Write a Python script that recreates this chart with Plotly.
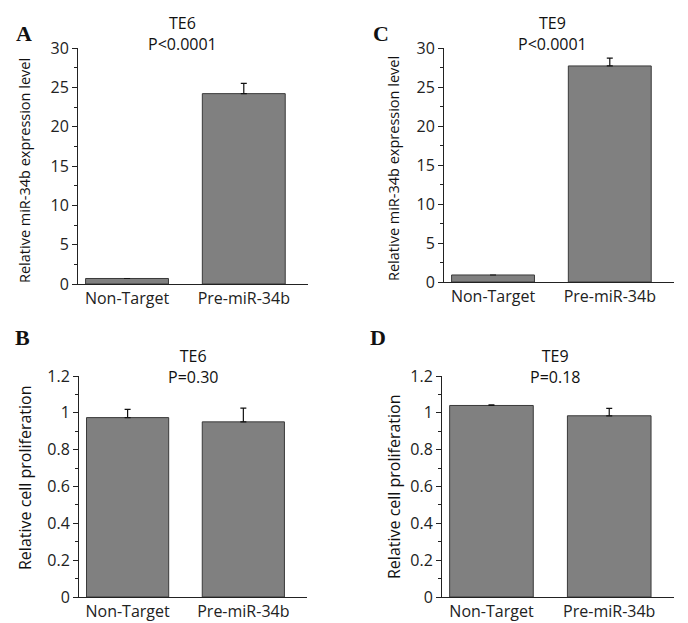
import plotly.graph_objects as go

categories = ["Non-Target", "Pre-miR-34b"]

# Panel A: TE6 miR-34b expression
a_values = [0.7, 24.2]
a_errors = [0.0, 1.3]
# Panel C: TE9 miR-34b expression
c_values = [0.9, 27.7]
c_errors = [0.0, 1.0]
# Panel B: TE6 proliferation
b_values = [0.974, 0.951]
b_errors = [0.045, 0.075]
# Panel D: TE9 proliferation
d_values = [1.040, 0.984]
d_errors = [0.004, 0.040]

expr_ticks = [0, 5, 10, 15, 20, 25, 30]
prolif_ticks = [0, 0.2, 0.4, 0.6, 0.8, 1, 1.2]

W, H = 688, 623
FONT = "Open Sans"
BAR = "#808080"
EDGE = "#3a3a3a"

def px(x):
    return x / W

def py(y):
    return 1 - y / H

panels = [
    ("A", a_values, a_errors, (78, 308), (284, 48), [0, 30], expr_ticks, 2.5),
    ("B", b_values, b_errors, (79, 307), (597, 376), [0, 1.2], prolif_ticks, 0.1),
    ("C", c_values, c_errors, (444, 674), (282, 48), [0, 30], expr_ticks, 2.5),
    ("D", d_values, d_errors, (442, 674), (597, 376), [0, 1.2], prolif_ticks, 0.1),
]

fig = go.Figure()
layout = {}
for i, (name, vals, errs, xd, yd, yr, ticks, mdt) in enumerate(panels):
    n = "" if i == 0 else str(i + 1)
    fig.add_trace(go.Bar(
        x=categories, y=vals, width=0.71,
        marker=dict(color=BAR, line=dict(color=EDGE, width=1)),
        error_y=dict(type="data", symmetric=False, array=errs,
                     arrayminus=[0] * len(errs), color="#111", thickness=1.2, width=3),
        xaxis="x" + n, yaxis="y" + n, showlegend=False,
    ))
    layout["xaxis" + n] = dict(
        domain=[px(xd[0]), px(xd[1])], anchor="y" + n, range=[-0.42, 1.55],
        showline=True, linecolor="#222", linewidth=1, ticks="", showgrid=False,
        zeroline=False, tickfont=dict(family=FONT, size=16, color="#222"),
        fixedrange=True, automargin=False,
    )
    layout["yaxis" + n] = dict(
        domain=[py(yd[0]), py(yd[1])], anchor="x" + n, range=yr,
        showline=True, linecolor="#222", linewidth=1, ticks="outside", ticklen=5,
        tickcolor="#222", tickvals=ticks, showgrid=False, zeroline=False,
        tickfont=dict(family=FONT, size=16, color="#222"),
        minor=dict(ticks="outside", ticklen=3, dtick=mdt, tickcolor="#222"),
        automargin=False, fixedrange=True,
    )

fig.update_layout(**layout)

annotations = []
def ann(text, x, y, size=16, family=FONT, angle=0, bold=False):
    annotations.append(dict(
        text=("<b>%s</b>" % text) if bold else text, x=px(x), y=py(y),
        xref="paper", yref="paper", showarrow=False, textangle=angle,
        font=dict(family=family, size=size, color="#111"),
        xanchor="center", yanchor="middle",
    ))

# panel letters
ann("A", 24, 33, size=22, family="Liberation Serif", bold=True)
ann("C", 381, 33, size=22, family="Liberation Serif", bold=True)
ann("B", 22, 337, size=22, family="Liberation Serif", bold=True)
ann("D", 378, 337, size=22, family="Liberation Serif", bold=True)

# titles (two lines each)
ann("TE6<br>P&lt;0.0001", 183, 33, size=16)
ann("TE9<br>P&lt;0.0001", 552, 33, size=16)
ann("TE6<br>P=0.30", 193, 366, size=16)
ann("TE9<br>P=0.18", 555, 366, size=16)

# y titles
ann("Relative miR-34b expression level", 24, 171, size=14.5, angle=-90)
ann("Relative miR-34b expression level", 393, 169, size=14.5, angle=-90)
ann("Relative cell proliferation", 25, 478, size=16, angle=-90)
ann("Relative cell proliferation", 394, 487, size=16, angle=-90)

fig.update_layout(
    width=W, height=H, margin=dict(l=0, r=0, t=0, b=0, autoexpand=False),
    paper_bgcolor="white", plot_bgcolor="white",
    annotations=annotations,
)

fig.write_html("out.html", config={"displayModeBar": False},
               post_script="document.body.style.margin='0';")
